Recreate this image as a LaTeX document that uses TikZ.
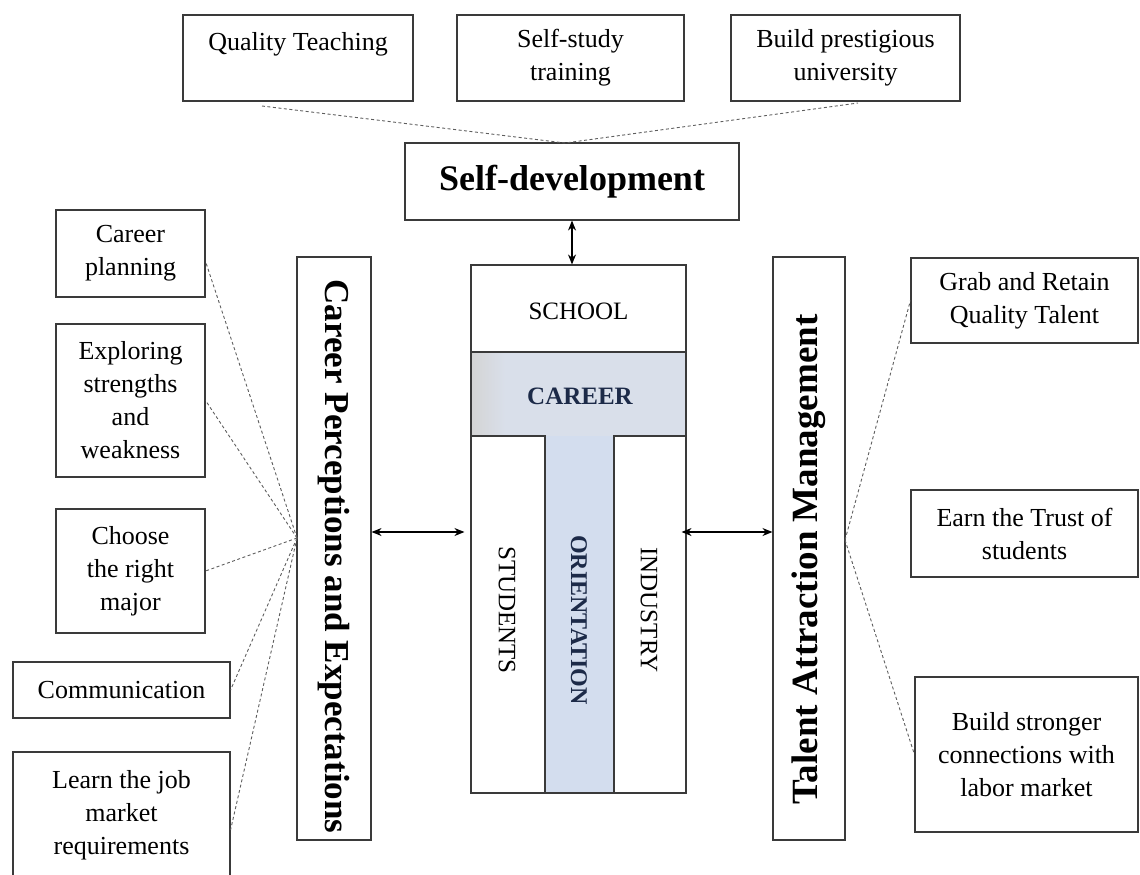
\documentclass[tikz,border=0pt]{standalone}
\usepackage{fontspec}
\setmainfont{Liberation Serif}
\usetikzlibrary{arrows.meta,calc}

\definecolor{edge}{HTML}{3A3A3A}
\definecolor{band}{HTML}{D9DFEA}
\definecolor{bandgray}{HTML}{D4D4D4}
\definecolor{stem}{HTML}{D3DDEE}
\definecolor{navy}{HTML}{1C2A48}
\definecolor{linkgray}{HTML}{5E5E5E}

\begin{document}
\begin{tikzpicture}[x=1pt,y=-1pt,
  box/.style={draw=edge, line width=1.1pt, align=center, inner sep=0pt,
    font=\fontsize{26}{33}\selectfont},
  headbox/.style={box, font=\fontsize{35}{40}\selectfont\bfseries},
  coretext/.style={inner sep=0pt, font=\fontsize{25}{30}\selectfont},
  link/.style={draw=linkgray, line width=0.9pt, dash pattern=on 3pt off 2.5pt},
  dbl/.style={{Stealth[length=10pt,width=8pt]}-{Stealth[length=10pt,width=8pt]},
    line width=1.1pt, draw=black}]
\useasboundingbox (0,0) rectangle (1140,875);

% top row
\node[box, minimum width=230, minimum height=86] (qt) at (298,58) {Quality Teaching\\ \mbox{}};
\node[box, minimum width=227, minimum height=86] (ss) at (570.5,58) {Self-study\\training};
\node[box, minimum width=229, minimum height=86] (bp) at (845.5,58) {Build prestigious\\university};
\node[box, minimum width=334, minimum height=77,
      font=\fontsize{36}{40}\selectfont\bfseries] (sd) at (572,181.5) {Self-development};

% left column
\node[box, minimum width=149, minimum height=87] (cplan) at (130.5,253.5) {Career\\planning};
\node[box, minimum width=149, minimum height=153] (expl) at (130.5,400.5) {Exploring\\strengths\\and\\weakness};
\node[box, minimum width=149, minimum height=124] (major) at (130.5,571) {Choose\\the right\\major};
\node[box, minimum width=217, minimum height=56] (comm) at (121.5,690) {Communication};
\node[box, minimum width=217, minimum height=126] (learn) at (121.5,815) {Learn the job\\market\\requirements};

% right column
\node[box, minimum width=227, minimum height=85] (grab) at (1024.5,300.5) {Grab and Retain\\Quality Talent};
\node[box, minimum width=227, minimum height=87] (trust) at (1024.5,533.5) {Earn the Trust of\\students};
\node[box, minimum width=223, minimum height=155] (conn) at (1026.5,754.5) {Build stronger\\connections with\\labor market};

% vertical headings (kerns nudge the text along the box)
\node[headbox, rotate=-90, minimum width=583, minimum height=74] (cpe) at (334,548.5)
  {\kern16pt Career Perceptions and Expectations};
\node[headbox, rotate=90, minimum width=583, minimum height=72,
      font=\fontsize{37}{40}\selectfont\bfseries] (tam) at (809,548.5)
  {Talent Attraction Management\kern22pt};

% central T-shaped block
\fill[band] (471,352) rectangle (686,436);
\shade[left color=bandgray, right color=band] (471,352) rectangle (505,436);
\fill[stem] (545,436) rectangle (614,793);
\node[draw=edge, line width=1.1pt, minimum width=215, minimum height=528, inner sep=0pt]
  (core) at (578.5,529) {};
\draw[edge, line width=1.1pt] (471,352) -- (686,352);
\draw[edge, line width=1.1pt] (471,436) -- (545,436) -- (545,793);
\draw[edge, line width=1.1pt] (686,436) -- (614,436) -- (614,793);
\node[coretext] (school) at (578.5,311) {SCHOOL};
\node[coretext, font=\fontsize{25}{30}\selectfont\bfseries, text=navy] (career) at (580,396) {CAREER};
\node[coretext, rotate=-90] (stud) at (507,610) {STUDENTS};
\node[coretext, rotate=-90, font=\fontsize{24}{30}\selectfont\bfseries, text=navy] (orient) at (579,620) {ORIENTATION};
\node[coretext, rotate=-90] (ind) at (649,610) {INDUSTRY};

% arrows
\coordinate (row) at (0,532);
\draw[dbl] (sd.south) -- (sd.south |- core.north);
\draw[dbl] (cpe.north |- row) -- ($(core.west |- row)+(-6,0)$);
\draw[dbl] ($(core.east |- row)+(-5,0)$) -- (tam.north |- row);

% dashed links
\coordinate (tophub) at (565,143);
\coordinate (qtfoot) at (262,106);
\coordinate (bpfoot) at (858,103);
\draw[link] (qtfoot) -- (tophub) -- (bpfoot);

\coordinate (lhub) at (297,538);
\draw[link] (lhub) -- ($(cplan.east)+(0,8)$);
\draw[link] (lhub) -- (expl.east);
\draw[link] (lhub) -- (major.east);
\draw[link] (lhub) -- (comm.east);
\draw[link] (lhub) -- ($(learn.east)+(0,15)$);

\coordinate (rhub) at (845,540);
\draw[link] (rhub) -- (grab.west);
\draw[link] (rhub) -- (conn.west);
\end{tikzpicture}
\end{document}
